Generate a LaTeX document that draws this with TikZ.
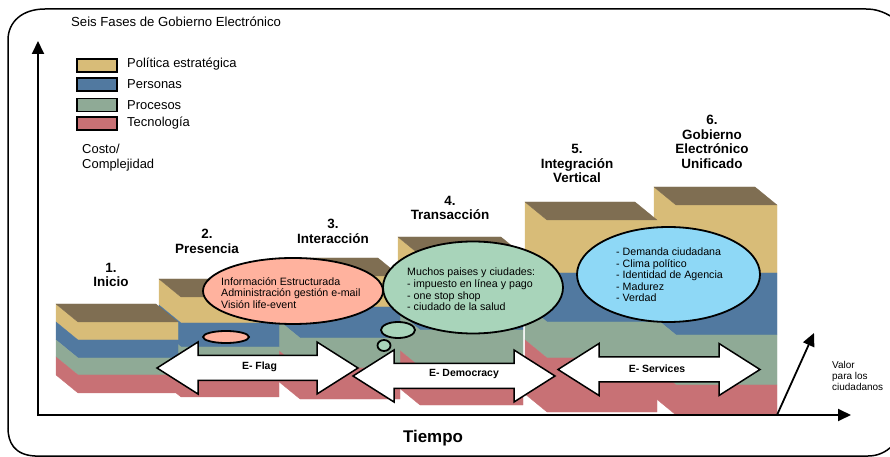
\documentclass[tikz,border=0pt]{standalone}
\usepackage{fontspec}
\setmainfont{Liberation Sans}
\usetikzlibrary{arrows.meta,shapes.geometric}
\definecolor{cgold}{RGB}{216,188,120}
\definecolor{cblue}{RGB}{81,121,160}
\definecolor{cgreen}{RGB}{143,170,150}
\definecolor{cred}{RGB}{200,113,117}
\definecolor{cbrown}{RGB}{127,110,82}
\definecolor{cpink}{RGB}{255,178,158}
\definecolor{cmint}{RGB}{168,212,186}
\definecolor{csky}{RGB}{142,216,246}
\newcommand{\stacklayer}[5]{%
  \fill[#5, draw=#5, line width=0.3bp] ({#1-22},{#3-18}) -- (#1,#3) -- (#2,#3) -- (#2,#4) -- (#1,#4) -- ({#1-22},{#4-18}) -- cycle;}
\newcommand{\phaseblock}[7]{%
  \stacklayer{#1}{#2}{#3}{#4}{cgold}
  \stacklayer{#1}{#2}{#4}{#5}{cblue}
  \stacklayer{#1}{#2}{#5}{#6}{cgreen}
  \stacklayer{#1}{#2}{#6}{#7}{cred}
  \fill[cbrown, draw=cbrown, line width=0.3bp] ({#1-22},{#3-18}) -- ({#2-22},{#3-18}) -- (#2,#3) -- (#1,#3) -- cycle;}
% double block arrow: left tip, right tip, center y
\newcommand{\blockarrow}[3]{%
  \draw[barrow] (#1,#3) -- ({#1+41},{#3-26}) -- ({#1+41},{#3-12.5}) -- ({#2-41},{#3-12.5}) -- ({#2-41},{#3-26}) -- (#2,#3) -- ({#2-41},{#3+26}) -- ({#2-41},{#3+12.5}) -- ({#1+41},{#3+12.5}) -- ({#1+41},{#3+26}) -- cycle;}
\begin{document}
\begin{tikzpicture}[x=1bp,y=-1bp,
  frame/.style={line width=1.5bp, black},
  axisline/.style={line width=1.8bp, black, -{Triangle[length=13bp,width=12bp]}},
  legbox/.style={draw=black, line width=1.3bp, minimum width=40bp, minimum height=13bp, inner sep=0},
  legtext/.style={anchor=west, inner sep=0, font=\fontsize{13}{15}\selectfont},
  phaselab/.style={align=center, inner sep=0, font=\fontsize{13.5}{14.5}\selectfont\bfseries},
  bubble/.style={ellipse, draw=black, line width=1.8bp, inner sep=0},
  bubtext/.style={align=left, anchor=west, inner sep=0, font=\fontsize{10.7}{11.6}\selectfont},
  barrow/.style={draw=black, fill=white, line width=1.5bp, line join=miter},
  arrlab/.style={inner sep=0, font=\fontsize{10.5}{12}\selectfont\bfseries}]
\useasboundingbox (0,0) rectangle (890,457);
% frame
\draw[frame] (8,428) -- (8,40) .. controls (8,22) and (22,9) .. (45,9) -- (866,9) .. controls (876,9) and (884,12) .. (892,17);
\draw[frame] (8,428) .. controls (8,442) and (14,455) .. (35,456) -- (868,456) .. controls (878,456) and (886,452) .. (892,446);
% title and legend
\node[anchor=west, inner sep=0, font=\fontsize{13.2}{15}\selectfont] (title) at (71,22) {Seis Fases de Gobierno Electrónico};
\node[legbox, fill=cgold] (lg1) at (97,65.5) {};
\node[legbox, fill=cblue] (lg2) at (97,84.5) {};
\node[legbox, fill=cgreen] (lg3) at (97,105) {};
\node[legbox, fill=cred] (lg4) at (97,123.5) {};
\node[legtext] (lt1) at (127,64) {Política estratégica};
\node[legtext] (lt2) at (127,84) {Personas};
\node[legtext] (lt3) at (127,105) {Procesos};
\node[legtext] (lt4) at (127,123) {Tecnología};
\node[align=left, anchor=west, inner sep=0, font=\fontsize{13}{15}\selectfont] (costo) at (82,157.5) {Costo/\\Complejidad};
% blocks (right to left so earlier ones are in front)
\phaseblock{676}{777}{205}{273}{335}{385}{415}
\phaseblock{547}{657}{220}{273}{322}{358}{412}
\phaseblock{420}{523}{255}{292}{330}{367}{405}
\phaseblock{300}{400}{276}{307}{338}{368}{399}
\phaseblock{181}{279}{297}{323}{347}{372}{397}
\phaseblock{78}{178}{322}{340}{358}{375}{393}
% axes
\coordinate (O) at (38,415);
\coordinate (ytip) at (38,41);
\coordinate (xtip) at (851,415);
\coordinate (vbase) at (777,415);
\coordinate (vtip) at (814,333);
\draw[axisline] (38,416) -- (ytip);
\draw[axisline] (37,415) -- (xtip);
\draw[axisline] (vbase) -- (vtip);
% block arrows
\blockarrow{157}{358}{368}
\blockarrow{353}{555}{376}
\blockarrow{558}{760}{369.5}
\node[arrlab] (eflag) at (259.5,367) {E- Flag};
\node[arrlab] (edem) at (464,374) {E- Democracy};
\node[arrlab] (eserv) at (657,369) {E- Services};
% bubbles
\node[bubble, fill=cpink, minimum width=180bp, minimum height=66bp] (bub3) at (293,291) {};
\node[bubble, fill=cpink, minimum width=46bp, minimum height=12bp] (bub3s) at (226,337) {};
\node[bubble, fill=cmint, minimum width=34bp, minimum height=16bp] (bub4m) at (398,330) {};
\node[bubble, fill=cmint, minimum width=13bp, minimum height=11bp] (bub4s) at (384,345.5) {};
\node[bubble, fill=cmint, minimum width=180bp, minimum height=92bp] (bub4) at (473,287.5) {};
\node[bubble, fill=csky, minimum width=183bp, minimum height=95bp] (bub6) at (668.5,274.5) {};
\node[bubtext] (t3) at (221,293) {Información Estructurada\\Administración gestión e-mail\\Visión life-event};
\node[bubtext] (t4) at (407,289.5) {Muchos paises y ciudades:\\- impuesto en línea y pago\\- one stop shop\\- ciudado de la salud};
\node[bubtext] (t6) at (616,275) {- Demanda ciudadana\\- Clima político\\- Identidad de Agencia\\- Madurez\\- Verdad};
% phase labels
\node[phaselab] (p1) at (111,275) {1.\\Inicio};
\node[phaselab] (p2) at (207,241.5) {2.\\Presencia};
\node[phaselab] (p3) at (333,231.5) {3.\\Interacción};
\node[phaselab] (p4) at (450,208) {4.\\Transacción};
\node[phaselab] (p5) at (577,163.5) {5.\\Integración\\Vertical};
\node[phaselab] (p6) at (712,142) {6.\\Gobierno\\Electrónico\\Unificado};
% axis labels
\node[inner sep=0, font=\fontsize{17}{20}\selectfont\bfseries] (tiempo) at (433,438) {Tiempo};
\node[align=left, anchor=west, inner sep=0, font=\fontsize{10}{11}\selectfont] (valor) at (832,376) {Valor\\para los\\ciudadanos};
\end{tikzpicture}
\end{document}
